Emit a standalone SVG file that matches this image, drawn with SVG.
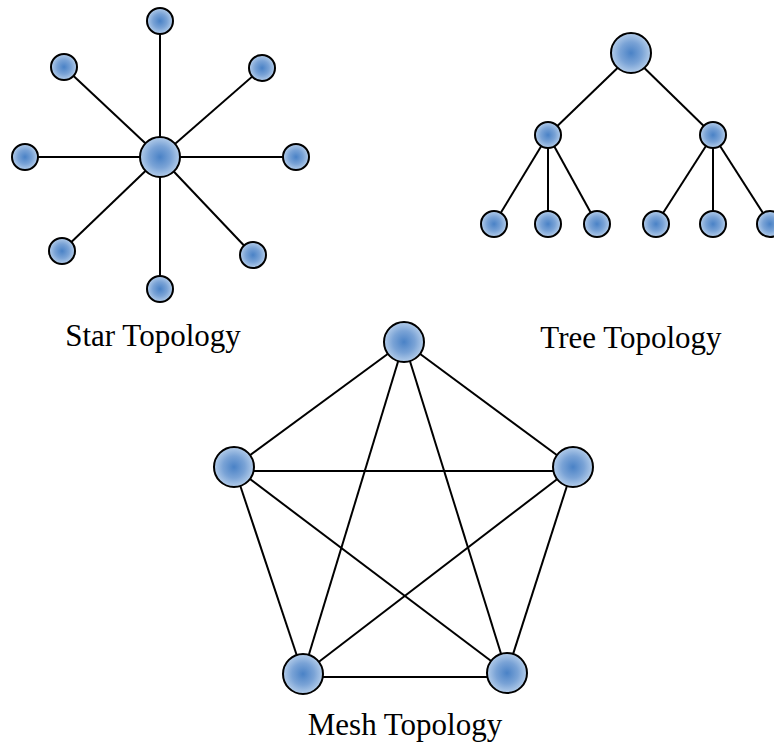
<svg xmlns="http://www.w3.org/2000/svg" width="774" height="746" viewBox="0 0 774 746">
  <defs>
    <radialGradient id="nodeFill" cx="50%" cy="50%" r="50%">
      <stop offset="0" stop-color="#4a82c6"/>
      <stop offset="0.55" stop-color="#7aa3d6"/>
      <stop offset="1" stop-color="#b4cdea"/>
    </radialGradient>
  </defs>
  <style>
    .edge { stroke: #000; stroke-width: 2; fill: none; }
    .node { fill: url(#nodeFill); stroke: #000; stroke-width: 2; }
    .label { font-family: "Liberation Serif", "Times New Roman", serif; font-size: 31px; fill: #000; text-anchor: middle; }
  </style>
  <rect width="774" height="746" fill="#fff"/>

  <!-- links -->
  <g id="connectors">
    <!-- star -->
    <line class="edge" x1="160" y1="157" x2="160" y2="21"/>
    <line class="edge" x1="160" y1="157" x2="64" y2="67"/>
    <line class="edge" x1="160" y1="157" x2="262" y2="68"/>
    <line class="edge" x1="160" y1="157" x2="25" y2="157"/>
    <line class="edge" x1="160" y1="157" x2="296" y2="157"/>
    <line class="edge" x1="160" y1="157" x2="62" y2="251"/>
    <line class="edge" x1="160" y1="157" x2="253" y2="255"/>
    <line class="edge" x1="160" y1="157" x2="160" y2="289"/>
    <!-- tree -->
    <line class="edge" x1="631" y1="55" x2="548" y2="135"/>
    <line class="edge" x1="631" y1="55" x2="713" y2="135"/>
    <line class="edge" x1="548" y1="135" x2="494" y2="224"/>
    <line class="edge" x1="548" y1="135" x2="548" y2="224"/>
    <line class="edge" x1="548" y1="135" x2="597" y2="224"/>
    <line class="edge" x1="713" y1="135" x2="656" y2="224"/>
    <line class="edge" x1="713" y1="135" x2="713" y2="224"/>
    <line class="edge" x1="713" y1="135" x2="770" y2="224"/>
    <!-- mesh -->
    <line class="edge" x1="404" y1="342" x2="234" y2="467"/>
    <line class="edge" x1="404" y1="342" x2="573" y2="467"/>
    <line class="edge" x1="404" y1="342" x2="303" y2="674"/>
    <line class="edge" x1="404" y1="342" x2="507" y2="673"/>
    <line class="edge" x1="234" y1="471" x2="573" y2="471"/>
    <line class="edge" x1="234" y1="467" x2="303" y2="674"/>
    <line class="edge" x1="234" y1="467" x2="507" y2="673"/>
    <line class="edge" x1="573" y1="467" x2="303" y2="674"/>
    <line class="edge" x1="573" y1="467" x2="507" y2="673"/>
    <line class="edge" x1="303" y1="677" x2="507" y2="677"/>
  </g>

  <!-- star topology -->
  <g id="star-hub"><circle class="node" cx="160" cy="157" r="20"/></g>
  <g id="star-n"><circle class="node" cx="160" cy="21" r="13"/></g>
  <g id="star-nw"><circle class="node" cx="64" cy="67" r="13"/></g>
  <g id="star-ne"><circle class="node" cx="262" cy="68" r="13"/></g>
  <g id="star-w"><circle class="node" cx="25" cy="157" r="13"/></g>
  <g id="star-e"><circle class="node" cx="296" cy="157" r="13"/></g>
  <g id="star-sw"><circle class="node" cx="62" cy="251" r="13"/></g>
  <g id="star-se"><circle class="node" cx="253" cy="255" r="13"/></g>
  <g id="star-s"><circle class="node" cx="160" cy="289" r="13"/></g>

  <!-- tree topology -->
  <g id="tree-root"><circle class="node" cx="631" cy="53" r="20"/></g>
  <g id="tree-left"><circle class="node" cx="548" cy="135" r="13"/></g>
  <g id="tree-right"><circle class="node" cx="713" cy="135" r="13"/></g>
  <g id="tree-leaf1"><circle class="node" cx="494" cy="224" r="13"/></g>
  <g id="tree-leaf2"><circle class="node" cx="548" cy="224" r="13"/></g>
  <g id="tree-leaf3"><circle class="node" cx="597" cy="224" r="13"/></g>
  <g id="tree-leaf4"><circle class="node" cx="656" cy="224" r="13"/></g>
  <g id="tree-leaf5"><circle class="node" cx="713" cy="224" r="13"/></g>
  <g id="tree-leaf6"><circle class="node" cx="770" cy="224" r="13"/></g>

  <!-- mesh topology -->
  <g id="mesh-top"><circle class="node" cx="404" cy="342" r="20"/></g>
  <g id="mesh-left"><circle class="node" cx="234" cy="467" r="20"/></g>
  <g id="mesh-right"><circle class="node" cx="573" cy="467" r="20"/></g>
  <g id="mesh-bottom-left"><circle class="node" cx="303" cy="674" r="20"/></g>
  <g id="mesh-bottom-right"><circle class="node" cx="507" cy="673" r="20"/></g>

  <!-- captions -->
  <g id="labels">
    <text class="label" x="153" y="346">Star Topology</text>
    <text class="label" x="631" y="348">Tree Topology</text>
    <text class="label" x="405" y="735">Mesh Topology</text>
  </g>
</svg>
